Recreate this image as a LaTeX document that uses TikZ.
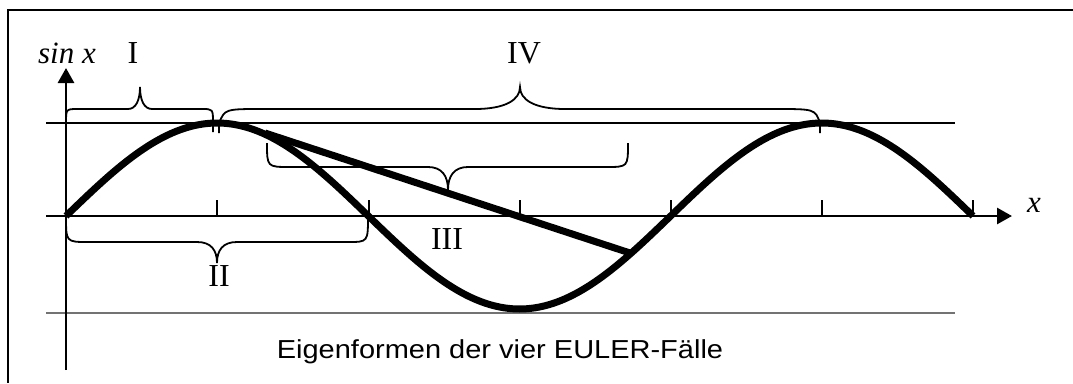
\documentclass[tikz,border=0pt]{standalone}
\usepackage{fontspec}
\setmainfont{Liberation Serif}
\newfontfamily\capfont{Liberation Sans}
\usetikzlibrary{arrows.meta}
\begin{document}
\begin{tikzpicture}[x=1pt,y=-1pt,
  thinline/.style={line width=1.3pt},
  axisline/.style={line width=2.8pt,-{Triangle[length=15pt,width=16pt]}},
  curveline/.style={line width=7pt,line join=round},
  bracepath/.style={line width=1.8pt},
  romanlbl/.style={font=\fontsize{32}{32}\selectfont,anchor=base,inner sep=0pt},
  itallbl/.style={font=\fontsize{31}{31}\selectfont\itshape,anchor=base,inner sep=0pt},
]
\useasboundingbox (0,0) rectangle (1073,383);
% frame
\draw[line width=1.2pt] (1073,10) -- (8,10) -- (8,383);
% reference lines
\draw[thinline] (46,123) -- (955,123);
\draw[thinline,black!55] (46,313) -- (955,313);
% ticks
\foreach \t in {217,369,520,671,822,973} \draw[line width=1.5pt] (\t,200) -- (\t,216);
% axes
\coordinate (xs) at (46,216);
\coordinate (xe) at (1012,216);
\coordinate (ys) at (66,370);
\coordinate (ye) at (66,68);
\draw[axisline] (xs) -- (xe);
\draw[axisline] (ys) -- (ye);
% sine curve
\draw[curveline] plot[domain=66:973,samples=121,smooth] (\x,{216-93*sin((\x-66)/907*540)});
% tangent line
\coordinate (ta) at (265,133);
\coordinate (tb) at (630,253);
\draw[line width=7pt] (ta) -- (tb);
% brace I
\draw[bracepath] (66,123) .. controls (66,109) .. (78,109) -- (128,109)
  .. controls (136,109) and (140,100) .. (140,87)
  .. controls (140,100) and (144,109) .. (152,109) -- (202,109)
  .. controls (213,109) .. (213,123) -- (213,132);
% brace IV
\draw[bracepath] (219,133) -- (219,123) .. controls (225,109) .. (263,109) -- (475,109)
  .. controls (505,109) and (520,100) .. (520,87)
  .. controls (520,100) and (535,109) .. (565,109) -- (775,109)
  .. controls (815,109) .. (820,123) -- (820,133);
% brace II
\draw[bracepath] (66,216) .. controls (66,242) .. (88,242) -- (197,242)
  .. controls (211,242) and (217,250) .. (217,263)
  .. controls (217,250) and (223,242) .. (237,242) -- (348,242)
  .. controls (368,242) .. (368,216);
% brace III
\draw[bracepath] (267,143) .. controls (267,167) .. (290,167) -- (428,167)
  .. controls (442,167) and (448,176) .. (448,190)
  .. controls (448,176) and (454,167) .. (468,167) -- (606,167)
  .. controls (628,167) .. (628,143);
% labels
\node[itallbl] (ylbl) at (67,63) {sin x};
\node[itallbl] (xlbl) at (1034,212) {x};
\node[romanlbl] (lI) at (133,63) {I};
\node[romanlbl] (lIV) at (524,63) {IV};
\node[romanlbl] (lII) at (219,286) {II};
\node[romanlbl] (lIII) at (447,249) {III};
\node[anchor=base,inner sep=0pt,font=\capfont\fontsize{26}{26}\selectfont] (cap) at (500,358) {\scalebox{1.115}[1]{Eigenformen der vier EULER-Fälle}};
\end{tikzpicture}
\end{document}
